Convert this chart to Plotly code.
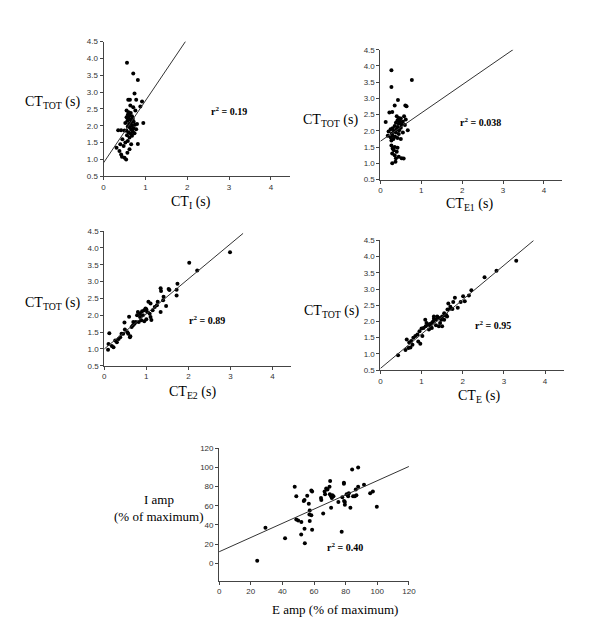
import plotly.graph_objects as go

# panel 1: CT_I vs CT_TOT
ct_i = [0.56, 0.71, 0.82, 0.74, 0.59, 0.63, 0.78, 0.92, 0.88, 0.95, 0.35, 0.42, 0.50, 0.82,
        0.55, 0.60, 0.65, 0.58, 0.62, 0.68, 0.55, 0.60, 0.70, 0.64, 0.57, 0.72, 0.66, 0.52,
        0.61, 0.75, 0.68, 0.58, 0.63, 0.72, 0.78, 0.66, 0.55, 0.70, 0.60, 0.74, 0.65, 0.56,
        0.68, 0.62, 0.80, 0.76, 0.71, 0.64, 0.45, 0.58, 0.66, 0.31, 0.62, 0.48, 0.38, 0.42,
        0.44, 0.50, 0.54, 0.57, 0.52, 0.40]
ct_tot_1 = [3.87, 3.55, 3.36, 2.96, 2.77, 2.77, 2.77, 2.72, 2.57, 2.08, 1.87, 1.87, 1.86, 1.46,
            2.45, 2.40, 2.38, 2.33, 2.30, 2.28, 2.25, 2.22, 2.20, 2.18, 2.15, 2.12, 2.10, 2.08,
            2.05, 2.03, 2.00, 1.98, 1.95, 1.93, 1.90, 1.88, 1.85, 1.82, 1.80, 1.78, 1.76, 1.72,
            1.70, 1.65, 2.05, 2.45, 2.55, 2.60, 1.60, 1.55, 1.45, 1.35, 1.30, 1.40, 1.25, 1.15,
            1.08, 1.05, 1.00, 1.20, 1.50, 1.45]

# panel 2: CT_E1 vs CT_TOT
ct_e1 = [0.27, 0.27, 0.77, 0.43, 0.35, 0.61, 0.64, 0.22, 0.29, 0.13, 0.67,
         0.40, 0.45, 0.50, 0.42, 0.48, 0.55, 0.38, 0.45, 0.52, 0.60, 0.35, 0.42, 0.50, 0.30,
         0.40, 0.25, 0.46, 0.33, 0.20, 0.38, 0.28, 0.45, 0.55, 0.18, 0.30, 0.36, 0.25, 0.42,
         0.32, 0.50, 0.27, 0.58, 0.62,
         0.27, 0.35, 0.30, 0.42, 0.33, 0.40, 0.29, 0.35, 0.45, 0.38, 0.52, 0.57, 0.29, 0.37]
ct_tot_2 = [3.87, 3.35, 3.57, 2.95, 2.78, 2.78, 2.76, 2.57, 2.58, 2.27, 2.02,
            2.45, 2.40, 2.38, 2.33, 2.30, 2.28, 2.25, 2.22, 2.20, 2.18, 2.15, 2.12, 2.10, 2.08,
            2.05, 2.05, 2.02, 2.00, 1.98, 1.95, 1.92, 1.90, 1.95, 1.85, 1.85, 1.82, 1.80, 1.78,
            1.75, 1.75, 1.70, 2.45, 2.35,
            1.55, 1.50, 1.46, 1.48, 1.40, 1.36, 1.30, 1.25, 1.20, 1.16, 1.16, 1.15, 1.00, 1.05]

# panel 3: CT_E2 vs CT_TOT
ct_e2 = [2.99, 2.02, 2.21, 1.74, 1.72, 1.72, 1.34, 1.35, 1.53, 1.47, 1.34, 1.41, 1.27, 1.12,
         1.55, 1.40, 1.20, 1.10, 1.05, 1.00, 0.95, 1.02, 0.90, 0.85, 0.80, 0.78, 0.92, 1.08,
         1.15, 0.88, 0.95, 0.82, 1.00, 0.72, 0.75, 0.68, 1.10, 1.25, 0.98, 0.85,
         0.12, 0.48, 0.59, 0.69, 0.09, 0.18, 0.22, 0.26, 0.34, 0.41, 0.49, 0.57, 0.61, 0.45,
         0.10, 0.30, 0.38, 0.55, 0.65, 0.62]
ct_tot_3 = [3.87, 3.56, 3.33, 2.94, 2.76, 2.59, 2.80, 2.72, 2.78, 2.28, 2.10, 2.55, 2.40, 1.86,
            2.75, 2.45, 2.25, 2.35, 2.40, 2.18, 2.15, 2.10, 2.12, 2.05, 2.10, 2.00, 2.00, 2.05,
            2.15, 1.85, 1.82, 1.80, 1.88, 1.75, 1.80, 1.70, 1.95, 2.30, 2.20, 1.95,
            1.47, 1.79, 1.96, 1.80, 0.98, 1.09, 1.05, 1.25, 1.30, 1.45, 1.58, 1.45, 1.35, 1.45,
            1.15, 1.20, 1.35, 1.50, 1.65, 1.38]

# panel 4: CT_E vs CT_TOT
ct_e = [3.30, 2.82, 2.53, 2.21, 2.01, 2.15, 1.81, 1.77, 1.63, 2.05, 1.95, 1.65, 1.70, 1.75,
        1.55, 1.60, 1.50, 1.45, 1.40, 1.35, 1.30, 1.28, 1.25, 1.20, 1.15, 1.10, 1.05, 1.00,
        1.42, 1.50, 1.35, 1.25, 1.18, 1.55, 1.62, 1.48, 1.38, 1.30, 1.12, 1.09, 0.95, 0.90,
        0.85, 0.80, 0.75, 0.70, 0.64, 0.43, 0.61, 0.73, 0.97, 0.78, 0.68, 0.92, 1.02, 1.70,
        1.88, 1.22, 1.58, 1.45]
ct_tot_4 = [3.87, 3.56, 3.36, 2.96, 2.78, 2.80, 2.73, 2.60, 2.37, 2.62, 2.60, 2.55, 2.40, 2.38,
            2.25, 2.20, 2.15, 2.10, 2.12, 2.05, 2.08, 2.00, 1.95, 1.92, 1.90, 1.85, 1.80, 1.78,
            1.85, 1.85, 1.88, 1.80, 1.75, 2.05, 2.15, 2.05, 2.15, 2.15, 1.95, 2.05, 1.70, 1.60,
            1.55, 1.50, 1.40, 1.35, 1.44, 0.96, 1.12, 1.20, 1.31, 1.28, 1.18, 1.38, 1.55, 2.45,
            2.42, 1.85, 2.18, 1.95]

# panel 5: E amp vs I amp (% of maximum)
e_amp = [24.1, 29.3, 41.7, 47.8, 48.8, 48.8, 50.0, 51.9, 52.0, 54.0, 54.2, 54.0, 55.7, 56.7,
         57.1, 57.3, 57.3, 58.8, 58.3, 58.3, 58.8, 65.8, 64.4, 64.6, 66.7, 67.7, 68.5, 67.0,
         70.2, 69.8, 70.0, 70.8, 71.6, 72.3, 71.3, 70.8, 75.4, 77.5, 77.9, 78.9, 78.9, 79.5,
         79.5, 80.6, 81.6, 82.0, 83.0, 84.1, 84.7, 85.8, 86.8, 86.4, 87.9, 87.9, 91.6, 95.5,
         97.2, 99.7, 79.0, 53.5]
i_amp = [2.7, 37, 26, 80, 70, 45.6, 44.6, 30, 43, 36, 21, 66, 70.6, 62,
         51, 44, 55, 35, 50, 76, 75, 52, 68, 66, 75, 78, 77, 72,
         86, 80, 72, 70, 71, 70, 68, 58, 64, 33, 69, 84, 83, 64,
         61, 72, 70, 73, 58, 98, 70, 70, 71, 77, 80, 100, 82, 73,
         75, 59, 65, 65]

# fitted lines: intercept, slope, x end
fit_1 = [0.90, 1.84, 1.96]
fit_2 = [1.68, 0.87, 3.25]
fit_3 = [1.00, 1.04, 3.30]
fit_4 = [0.55, 1.06, 3.72]
fit_5 = [12.0, 0.742, 120.0]

ct_ticks = [0, 1, 2, 3, 4]
tot_ticks = [0.5, 1.0, 1.5, 2.0, 2.5, 3.0, 3.5, 4.0, 4.5]
amp_ticks = [0, 20, 40, 60, 80, 100, 120]

serif = "Liberation Serif"
panels = [
    (ct_i, ct_tot_1, fit_1, [0.1583, 0.4733], [0.7333, 0.952]),
    (ct_e1, ct_tot_2, fit_2, [0.6267, 0.9345], [0.728, 0.9387]),
    (ct_e2, ct_tot_3, fit_3, [0.1595, 0.4762], [0.4256, 0.6443]),
    (ct_e, ct_tot_4, fit_4, [0.6267, 0.9367], [0.4187, 0.6293]),
    (e_amp, i_amp, fit_5, [0.3538, 0.675], [0.0771, 0.2917]),
]

fig = go.Figure()
layout = {}
for k, (xs, ys, fit, dx, dy) in enumerate(panels, start=1):
    sx = "" if k == 1 else str(k)
    fig.add_trace(go.Scatter(x=xs, y=ys, mode="markers", xaxis="x" + sx, yaxis="y" + sx,
                             marker=dict(color="black", size=4), showlegend=False))
    b, m, xe = fit
    fig.add_trace(go.Scatter(x=[0, xe], y=[b, b + m * xe], mode="lines", xaxis="x" + sx,
                             yaxis="y" + sx, line=dict(color="#333", width=1), showlegend=False))
    axis_common = dict(showgrid=False, zeroline=False, showline=True, linecolor="#444",
                       linewidth=1, ticks="outside", ticklen=3, tickcolor="#444",
                       tickfont=dict(family="Liberation Sans", size=8, color="#333"))
    if k < 5:
        xa = dict(range=[0, 4.45], tickvals=ct_ticks, **axis_common)
        ya = dict(range=[0.5, 4.5], tickvals=tot_ticks, tickformat=".1f", **axis_common)
    else:
        xa = dict(range=[0, 120], tickvals=amp_ticks, **axis_common)
        ya = dict(range=[-18, 120], tickvals=amp_ticks, **axis_common)
    xa.update(domain=dx, anchor="y" + sx)
    ya.update(domain=dy, anchor="x" + sx)
    layout["xaxis" + sx] = xa
    layout["yaxis" + sx] = ya

fig.update_layout(**layout)

tfont = dict(family=serif, size=14, color="black")
afont = dict(family=serif, size=13, color="black")
rfont = dict(family=serif, size=10, color="black")
ann = [
    # y titles
    (43, 92, "CT<sub>TOT</sub> (s)", tfont),
    (325, 110, "CT<sub>TOT</sub> (s)", tfont),
    (43, 296, "CT<sub>TOT</sub> (s)", tfont),
    (326, 304, "CT<sub>TOT</sub> (s)", tfont),
    (151, 495, "I amp", afont),
    (151, 512, "(% of maximum)", afont),
    # x titles
    (184, 193, "CT<sub>I</sub> (s)", tfont),
    (467, 195, "CT<sub>E1</sub> (s)", tfont),
    (185, 386, "CT<sub>E2</sub> (s)", tfont),
    (476, 390, "CT<sub>E</sub> (s)", tfont),
    (330, 606, "E amp (% of maximum)", afont),
    # r squared
    (222, 100, "<b>r<sup>2</sup> = 0.19</b>", rfont),
    (478, 112, "<b>r<sup>2</sup> = 0.038</b>", rfont),
    (200, 312, "<b>r<sup>2</sup> = 0.89</b>", rfont),
    (490, 318, "<b>r<sup>2</sup> = 0.95</b>", rfont),
    (340, 543, "<b>r<sup>2</sup> = 0.40</b>", rfont),
]
for px_x, px_y, txt, f in ann:
    fig.add_annotation(x=px_x / 600, y=1 - px_y / 625, xref="paper", yref="paper",
                       text=txt, showarrow=False, font=f, xanchor="center", yanchor="middle")

fig.update_layout(width=600, height=625, margin=dict(l=0, r=0, t=0, b=0),
                  plot_bgcolor="white", paper_bgcolor="white")
fig.write_html("out.html")
